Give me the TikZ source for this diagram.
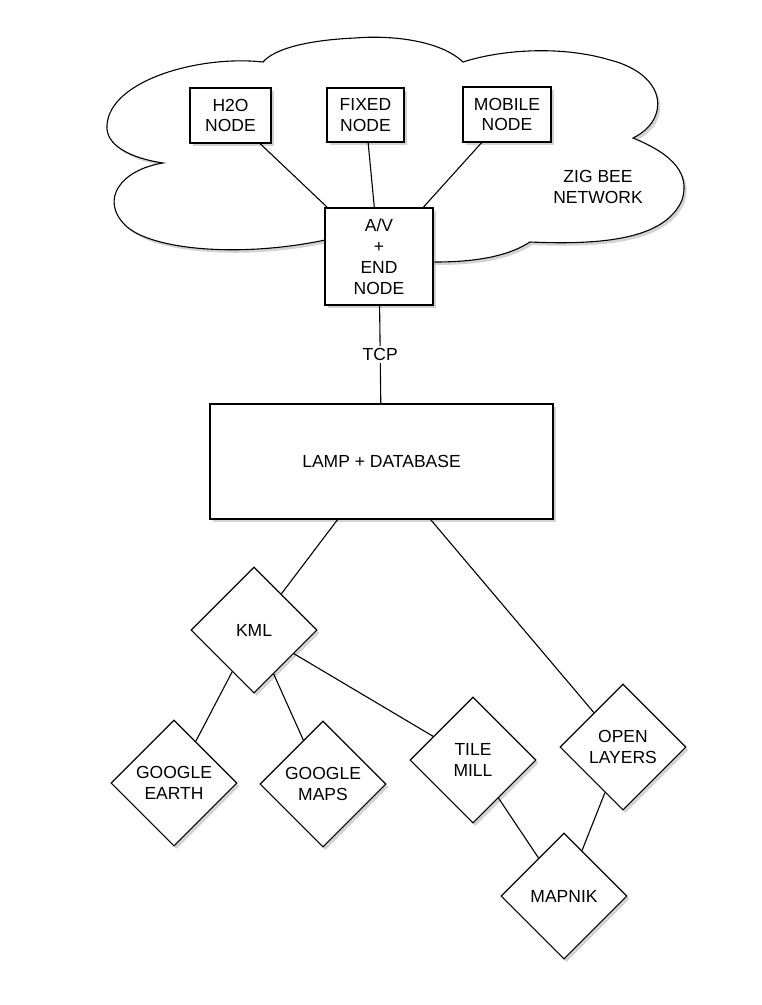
\documentclass[tikz,border=0pt]{standalone}
\usepackage{fontspec}
\setmainfont{Liberation Sans}
\usepackage{tikz}
\usetikzlibrary{shapes.geometric,shadows}

\begin{document}
\begin{tikzpicture}[x=1pt,y=-1pt,line width=1.1pt,
    every node/.style={font=\fontsize{17.5}{20.5}\selectfont,align=center},
    shade/.style={drop shadow={opacity=.35,shadow xshift=2.5pt,shadow yshift=-3pt}},
    nodebox/.style={draw,fill=white,rectangle,inner sep=2pt,shade},
    dmd/.style={draw,fill=white,diamond,inner sep=0pt,minimum width=126pt,minimum height=126pt,shade}]
            \useasboundingbox (0,0) rectangle (762,1005);
            \def\cloudpath{(263,62) .. controls (200,55) and (110,80) .. (107,125)
                .. controls (105,145) and (130,158) .. (163,163)
                .. controls (120,170) and (100,200) .. (125,225)
                .. controls (150,250) and (240,258) .. (325,240)
                -- (435,262)
                .. controls (480,262) and (510,255) .. (530,242)
                .. controls (600,245) and (665,240) .. (682,200)
                .. controls (690,175) and (675,155) .. (633,138)
                .. controls (670,120) and (668,75) .. (610,60)
                .. controls (560,45) and (500,50) .. (463,62)
                .. controls (440,40) and (390,35) .. (355,38)
                .. controls (310,40) and (275,48) .. (263,62) -- cycle}
            \fill[white,shade] \cloudpath ;
            \draw \cloudpath ;
            \node at (598,187) {ZIG BEE\\NETWORK};
            % zigbee nodes
            \node[nodebox,minimum width=81pt,minimum height=55pt] (h2o) at (230.5,115.5) {H2O\\NODE};
            \node[nodebox,minimum width=77pt,minimum height=54pt] (fixed) at (365.5,115) {FIXED\\NODE};
            \node[nodebox,minimum width=88pt,minimum height=55pt] (mobile) at (507,114.5) {MOBILE\\NODE};
            \node[nodebox,minimum width=108pt,minimum height=97pt,font=\fontsize{17.5}{21}\selectfont] (av) at (379,256.5) {A/V\\+\\END\\NODE};
            \node[nodebox,minimum width=343pt,minimum height=115pt] (lamp) at (381.5,461.5) {LAMP + DATABASE};
            % diamonds
            \node[dmd] (kml) at (254,630) {KML};
            \node[dmd] (gearth) at (174,783) {GOOGLE\\EARTH};
            \node[dmd] (gmaps) at (323,784) {GOOGLE\\MAPS};
            \node[dmd] (tilemill) at (473,760) {TILE\\MILL};
            \node[dmd] (openlayers) at (623,747) {OPEN\\LAYERS};
            \node[dmd] (mapnik) at (564,896) {MAPNIK};
            \draw (h2o) -- (av);
            \draw (fixed) -- (av);
            \draw (mobile) -- (av);
            \draw (av) -- node[fill=white,inner sep=2pt] (tcp) {TCP} (lamp);
            \draw (lamp) -- (kml);
            \draw (lamp) -- (openlayers);
            \draw (kml) -- (gearth);
            \draw (kml) -- (gmaps);
            \draw (kml) -- (tilemill);
            \draw (tilemill) -- (mapnik);
            \draw (openlayers) -- (mapnik);
        \end{tikzpicture}
\end{document}
